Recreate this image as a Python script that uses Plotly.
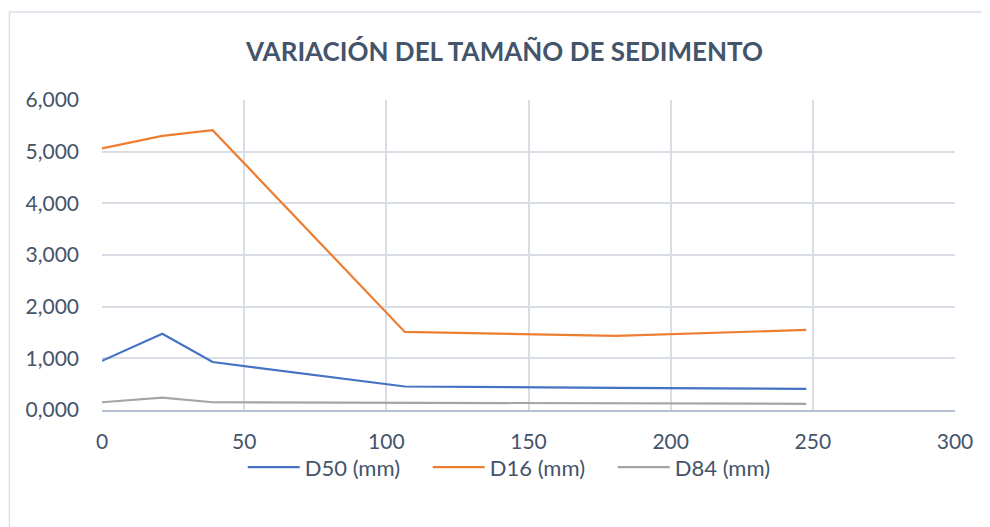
import plotly.graph_objects as go

distancia = [0, 21.2, 38.9, 106.5, 180.7, 247.7]
d50 = [0.951, 1.476, 0.928, 0.455, 0.430, 0.409]
d16 = [5.062, 5.307, 5.417, 1.511, 1.433, 1.550]
d84 = [0.150, 0.240, 0.150, 0.140, 0.126, 0.120]

title_text = "VARIACIÓN DEL TAMAÑO DE SEDIMENTO"
font_fam = "Lato, 'Open Sans', sans-serif"
txt_col = "#44546A"

fig = go.Figure()
fig.add_trace(go.Scatter(x=distancia, y=d50, mode="lines", name="D50 (mm)",
                         line=dict(color="#4472C4", width=2.2)))
fig.add_trace(go.Scatter(x=distancia, y=d16, mode="lines", name="D16 (mm)",
                         line=dict(color="#ED7D31", width=2.2)))
fig.add_trace(go.Scatter(x=distancia, y=d84, mode="lines", name="D84 (mm)",
                         line=dict(color="#A5A5A5", width=2.2)))

fig.update_layout(
    width=982, height=519,
    margin=dict(l=94, r=35, t=92, b=117, autoexpand=False),
    paper_bgcolor="white", plot_bgcolor="white",
    separators=",.",
    font=dict(family=font_fam, size=21, color=txt_col),
    title=dict(text="<b>" + title_text + "</b>", x=0.5056, xanchor="center",
               y=0.915, yanchor="middle",
               font=dict(family=font_fam, size=26, color=txt_col)),
    legend=dict(orientation="h", x=0.165, xanchor="left", y=-0.117, yanchor="top",
                font=dict(family=font_fam, size=22, color=txt_col),
                bgcolor="rgba(0,0,0,0)",
                itemwidth=52, entrywidth=118, entrywidthmode="pixels",
                traceorder="normal"),
    xaxis=dict(range=[0, 300], dtick=50, tick0=0, showgrid=True, gridcolor="#D9DEE6",
               gridwidth=1.5, zeroline=False, showline=True, linecolor="#B4BFCF",
               linewidth=1.5, ticks="", ticklabelstandoff=12, automargin=False),
    yaxis=dict(range=[0, 6], dtick=1, tick0=0, tickformat=".3f", showgrid=True,
               gridcolor="#D9DEE6", gridwidth=1.5, zeroline=False, showline=False,
               ticks="", ticklabelstandoff=22, automargin=False),
)

fig.add_shape(type="rect", xref="paper", yref="paper",
              x0=-0.1085, x1=1.2, y0=-0.6, y1=1.284,
              line=dict(color="#DCE0E8", width=1.5), fillcolor="rgba(0,0,0,0)", layer="below")

fig.write_html("out.html")
